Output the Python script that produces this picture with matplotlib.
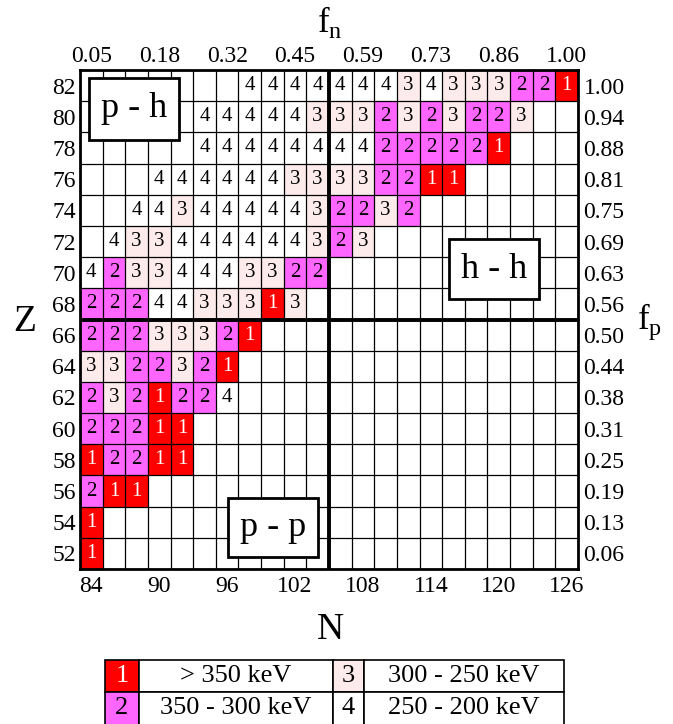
import numpy as np
import matplotlib
matplotlib.use("Agg")
import matplotlib.pyplot as plt
from matplotlib.colors import ListedColormap
from matplotlib.patches import Rectangle

plt.rcParams['font.family'] = ['Liberation Serif', 'DejaVu Serif']
plt.rcParams['mathtext.fontset'] = 'custom'
plt.rcParams['mathtext.rm'] = 'Liberation Serif'

# neutron / proton numbers of the grid
N_vals = list(range(84, 127, 2))
Z_vals = list(range(82, 51, -2))

# class of each cell (0 = empty), rows from Z=82 down to Z=52, columns N=84..126
classes = [
    [0, 0, 0, 0, 0, 0, 0, 4, 4, 4, 4, 4, 4, 4, 3, 4, 3, 3, 3, 2, 2, 1],  # 82
    [0, 0, 0, 0, 0, 4, 4, 4, 4, 4, 3, 3, 3, 2, 3, 2, 3, 2, 2, 3, 0, 0],  # 80
    [0, 0, 0, 0, 0, 4, 4, 4, 4, 4, 4, 4, 4, 2, 2, 2, 2, 2, 1, 0, 0, 0],  # 78
    [0, 0, 0, 4, 4, 4, 4, 4, 4, 3, 3, 3, 3, 2, 2, 1, 1, 0, 0, 0, 0, 0],  # 76
    [0, 0, 4, 4, 3, 4, 4, 4, 4, 4, 3, 2, 2, 3, 2, 0, 0, 0, 0, 0, 0, 0],  # 74
    [0, 4, 3, 3, 4, 4, 4, 4, 4, 4, 3, 2, 3, 0, 0, 0, 0, 0, 0, 0, 0, 0],  # 72
    [4, 2, 3, 3, 4, 4, 4, 3, 3, 2, 2, 0, 0, 0, 0, 0, 0, 0, 0, 0, 0, 0],  # 70
    [2, 2, 2, 4, 4, 3, 3, 3, 1, 3, 0, 0, 0, 0, 0, 0, 0, 0, 0, 0, 0, 0],  # 68
    [2, 2, 2, 3, 3, 3, 2, 1, 0, 0, 0, 0, 0, 0, 0, 0, 0, 0, 0, 0, 0, 0],  # 66
    [3, 3, 2, 2, 3, 2, 1, 0, 0, 0, 0, 0, 0, 0, 0, 0, 0, 0, 0, 0, 0, 0],  # 64
    [2, 3, 2, 1, 2, 2, 4, 0, 0, 0, 0, 0, 0, 0, 0, 0, 0, 0, 0, 0, 0, 0],  # 62
    [2, 2, 2, 1, 1, 0, 0, 0, 0, 0, 0, 0, 0, 0, 0, 0, 0, 0, 0, 0, 0, 0],  # 60
    [1, 2, 2, 1, 1, 0, 0, 0, 0, 0, 0, 0, 0, 0, 0, 0, 0, 0, 0, 0, 0, 0],  # 58
    [2, 1, 1, 0, 0, 0, 0, 0, 0, 0, 0, 0, 0, 0, 0, 0, 0, 0, 0, 0, 0, 0],  # 56
    [1, 0, 0, 0, 0, 0, 0, 0, 0, 0, 0, 0, 0, 0, 0, 0, 0, 0, 0, 0, 0, 0],  # 54
    [1, 0, 0, 0, 0, 0, 0, 0, 0, 0, 0, 0, 0, 0, 0, 0, 0, 0, 0, 0, 0, 0],  # 52
]

N_ticks = [84, 90, 96, 102, 108, 114, 120, 126]
fn_labels = ['0.05', '0.18', '0.32', '0.45', '0.59', '0.73', '0.86', '1.00']
fp_labels = ['1.00', '0.94', '0.88', '0.81', '0.75', '0.69', '0.63', '0.56',
             '0.50', '0.44', '0.38', '0.31', '0.25', '0.19', '0.13', '0.06']

legend_codes = [1, 2, 3, 4]
legend_labels = ['> 350 keV', '350 - 300 keV', '300 - 250 keV', '250 - 200 keV']

# empty, 1, 2, 3, 4
cell_colors = ['white', '#ff0000', '#ff66ff', '#fdeaea', 'white']
cmap = ListedColormap(cell_colors)

W, H = 673, 724
fig = plt.figure(figsize=(W / 100, H / 100), dpi=100)
ax = fig.add_axes([80 / W, (H - 569) / H, 498 / W, 499 / H])

arr = np.array(classes)
N_edges = np.arange(N_vals[0] - 1, N_vals[-1] + 2, 2)
Z_edges = np.arange(Z_vals[-1] - 1, Z_vals[0] + 2, 2)
ax.pcolormesh(N_edges, Z_edges, arr[::-1], cmap=cmap, vmin=-0.5, vmax=4.5)
ax.set_xlim(N_edges[0], N_edges[-1])
ax.set_ylim(Z_edges[0], Z_edges[-1])

ax.vlines(N_edges, Z_edges[0], Z_edges[-1], color='black', lw=0.9, zorder=2)
ax.hlines(Z_edges, N_edges[0], N_edges[-1], color='black', lw=0.9, zorder=2)
ax.axvline(105, color='black', lw=2.8, zorder=3)
ax.axhline(67, color='black', lw=2.8, zorder=3)
for s in ax.spines.values():
    s.set_linewidth(2)
    s.set_zorder(4)

for i, z in enumerate(Z_vals):
    for j, n in enumerate(N_vals):
        c = classes[i][j]
        if c:
            ax.text(n, z, str(c), ha='center', va='center', fontsize=15,
                    color='white' if c == 1 else 'black', zorder=3)

ax.set_xticks(N_ticks)
ax.set_yticks(Z_vals)
ax.tick_params(length=0, labelsize=17, pad=5)
ax.tick_params(axis='y', pad=3)

ax_top = ax.twiny()
ax_top.set_xlim(ax.get_xlim())
ax_top.set_xticks(N_ticks)
ax_top.set_xticklabels(fn_labels)
ax_top.tick_params(length=0, labelsize=17, pad=2)

ax_r = ax.twinx()
ax_r.set_ylim(ax.get_ylim())
ax_r.set_yticks(Z_vals)
ax_r.set_yticklabels(fp_labels)
ax_r.tick_params(length=0, labelsize=17, pad=4)
for a in (ax_top, ax_r):
    for s in a.spines.values():
        s.set_visible(False)

# region boxes
boxes = [('p - h', 0.018, 0.860, 0.181, 0.124),
         ('h - h', 0.741, 0.541, 0.181, 0.120),
         ('p - p', 0.297, 0.024, 0.181, 0.118)]
for lab, x0, y0, w, h in boxes:
    ax_r.add_patch(Rectangle((x0, y0), w, h, transform=ax.transAxes,
                             facecolor='white', edgecolor='black', lw=2, zorder=5))
    ax_r.text(x0 + w / 2, y0 + h / 2, lab, transform=ax.transAxes,
              ha='center', va='center', fontsize=26, zorder=6)

fig.text(25 / W, 1 - 322 / H, 'Z', fontsize=27, ha='center', va='center')
fig.text(330 / W, 1 - 630 / H, 'N', fontsize=27, ha='center', va='center')
fig.text(330 / W, 1 - 22 / H, r'f$_\mathrm{n}$', fontsize=25, ha='center', va='center')
fig.text(650 / W, 1 - 322 / H, r'f$_\mathrm{p}$', fontsize=25, ha='center', va='center')

# legend table (second row runs off the bottom edge)
lg = fig.add_axes([105 / W, -12 / H, 459 / W, 76 / H])
lg.set_xlim(0, 459)
lg.set_ylim(76, 0)
lg.axis('off')
col_x = [(0, 34), (34, 228), (228, 259), (259, 459)]
for k, code in enumerate(legend_codes):
    row = k % 2
    sw = col_x[2 * (k // 2)]
    tx = col_x[2 * (k // 2) + 1]
    y0 = row * 32
    hgt = 32 if row == 0 else 44
    lg.add_patch(Rectangle((sw[0], y0), sw[1] - sw[0], hgt, facecolor=cell_colors[code],
                           edgecolor='black', lw=1.2, clip_on=False))
    lg.add_patch(Rectangle((tx[0], y0), tx[1] - tx[0], hgt, facecolor='white',
                           edgecolor='black', lw=1.2, clip_on=False))
    lg.text((sw[0] + sw[1]) / 2, y0 + 16, str(code), ha='center', va='center',
            fontsize=19, color='white' if code == 1 else 'black')
    lg.text((tx[0] + tx[1]) / 2, y0 + 16, legend_labels[k], ha='center', va='center',
            fontsize=19)

fig.savefig('out.png', dpi=100)
